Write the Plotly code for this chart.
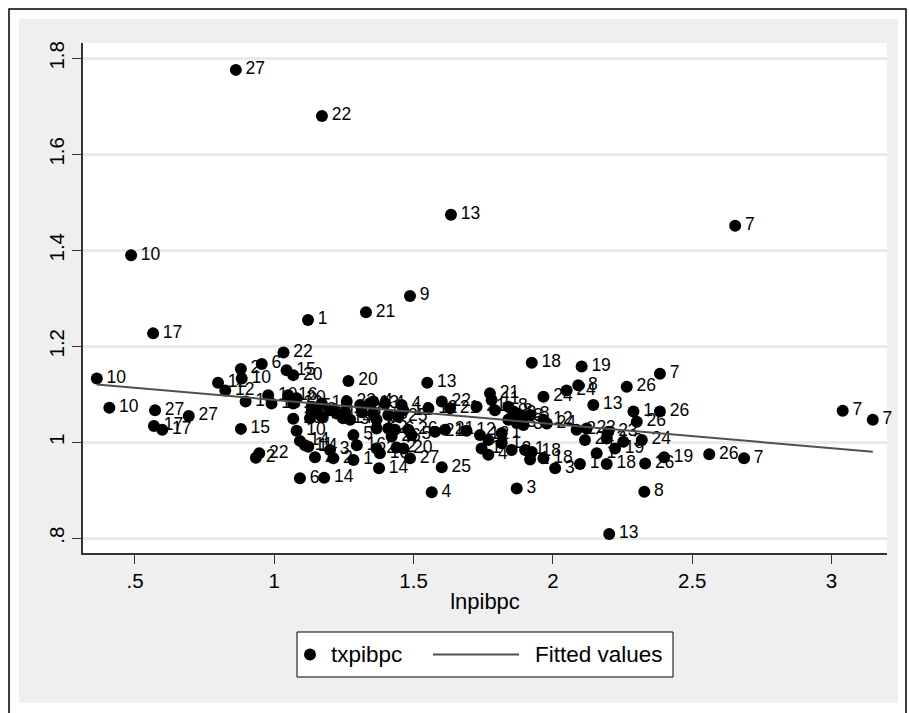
import numpy as np
import plotly.graph_objects as go

# ---- data ----
lnpibpc = [0.862, 1.171, 1.634, 2.654, 0.486, 1.487, 1.329, 1.121, 0.565, 0.363,
           0.408, 0.572, 0.568, 0.598, 0.693, 0.798, 0.824, 0.880, 0.883, 0.897,
           0.880, 1.033, 0.955, 1.044, 1.068, 1.266, 0.978, 0.990, 1.050, 1.080,
           1.068, 1.134, 1.134, 1.152, 1.170, 1.170, 1.128, 1.200, 1.224, 1.254,
           1.260, 1.247, 1.272, 1.308, 1.314, 1.343, 1.355, 1.355, 1.367, 1.367,
           1.068, 1.080, 1.092, 1.110, 1.122, 1.146, 1.200, 1.212, 1.284, 1.296,
           1.284, 1.367, 1.376, 1.092, 1.179, 0.946, 0.934, 1.549, 1.397, 1.457,
           1.463, 1.445, 1.409, 1.553, 1.601, 1.631, 1.726, 1.774, 1.780, 1.792,
           1.840, 1.858, 1.409, 1.433, 1.421, 1.481, 1.493, 1.577, 1.613, 1.690,
           1.738, 1.768, 1.744, 1.768, 1.816, 1.852, 1.379, 1.439, 1.463, 1.487,
           1.601, 1.565, 1.870, 1.924, 2.103, 2.091, 2.049, 1.966, 2.265, 2.145,
           2.384, 2.289, 2.301, 2.384, 1.870, 1.894, 1.918, 1.870, 1.894, 1.966,
           1.978, 2.085, 2.121, 2.115, 2.199, 2.193, 2.223, 2.253, 2.319, 2.157,
           2.193, 2.097, 2.008, 1.900, 1.924, 1.918, 1.966, 2.331, 2.328, 2.202,
           3.040, 3.148, 2.399, 2.561, 2.686, 1.816, 1.840]
txpibpc = [1.776, 1.680, 1.474, 1.451, 1.390, 1.305, 1.271, 1.255, 1.227, 1.133,
           1.072, 1.067, 1.034, 1.026, 1.055, 1.124, 1.108, 1.153, 1.133, 1.085,
           1.028, 1.187, 1.163, 1.150, 1.140, 1.128, 1.098, 1.081, 1.098, 1.092,
           1.081, 1.074, 1.064, 1.067, 1.081, 1.053, 1.050, 1.067, 1.060, 1.064,
           1.085, 1.050, 1.047, 1.078, 1.064, 1.081, 1.085, 1.060, 1.047, 1.029,
           1.049, 1.024, 1.003, 0.994, 0.991, 0.969, 0.984, 0.967, 1.015, 0.994,
           0.963, 0.987, 0.946, 0.925, 0.926, 0.977, 0.968, 1.124, 1.081, 1.078,
           1.067, 1.053, 1.057, 1.071, 1.085, 1.071, 1.074, 1.102, 1.088, 1.067,
           1.074, 1.064, 1.029, 1.026, 1.012, 1.026, 1.015, 1.022, 1.026, 1.024,
           1.015, 1.005, 0.987, 0.974, 0.998, 0.984, 0.977, 0.989, 0.987, 0.967,
           0.948, 0.896, 0.904, 1.166, 1.158, 1.119, 1.108, 1.095, 1.116, 1.078,
           1.143, 1.064, 1.043, 1.064, 1.060, 1.053, 1.057, 1.040, 1.036, 1.047,
           1.039, 1.026, 1.029, 1.005, 1.022, 1.008, 0.987, 1.001, 1.005, 0.977,
           0.955, 0.955, 0.946, 0.984, 0.980, 0.964, 0.967, 0.956, 0.897, 0.809,
           1.066, 1.047, 0.969, 0.975, 0.967, 1.019, 1.047]
labels = ["27", "22", "13", "7", "10", "9", "21", "1", "17", "10",
          "10", "27", "17", "17", "27", "12", "12", "2", "10", "1",
          "15", "22", "6", "15", "20", "20", "10", "13", "16", "20",
          "13", "5", "11", "2", "12", "4", "9", "2", "16", "12",
          "23", "14", "5", "18", "8", "13", "4", "16", "9", "6",
          "19", "10", "14", "11", "14", "2", "3", "2", "5", "16",
          "1", "2", "14", "6", "14", "22", "2", "13", "4", "4",
          "12", "25", "5", "12", "22", "21", "21", "21", "11", "1",
          "8", "8", "2", "6", "26", "26", "5", "21", "21", "12",
          "12", "8", "1", "4", "1", "2", "16", "2", "20", "27",
          "25", "4", "3", "18", "19", "8", "24", "24", "26", "13",
          "7", "1", "26", "26", "3", "8", "8", "3", "3", "12",
          "24", "2", "23", "24", "23", "2", "19", "3", "24", "1",
          "18", "1", "3", "1", "18", "1", "18", "26", "8", "13",
          "7", "7", "19", "26", "7", "1", "2"]

x_ticks = [0.5, 1, 1.5, 2, 2.5, 3]
x_ticktext = [".5", "1", "1.5", "2", "2.5", "3"]
y_ticks = [0.8, 1.0, 1.2, 1.4, 1.6, 1.8]
y_ticktext = [".8", "1", "1.2", "1.4", "1.6", "1.8"]
series_names = ["txpibpc", "Fitted values"]

# ---- fitted values (OLS) ----
xa = np.array(lnpibpc)
ya = np.array(txpibpc)
slope, intercept = np.polyfit(xa, ya, 1)
xfit = np.array([xa.min(), xa.max()])
yfit = intercept + slope * xfit

FONT = "Arial, Liberation Sans, sans-serif"
W, H = 909, 713
ML, MR, MT, MB = 83, 22, 43, 160
PW, PH = W - ML - MR, H - MT - MB
FIT_COLOR = "#505050"


def px(xp, yp):
    return (xp - ML) / PW, (H - MB - yp) / PH


def rect(x0, y0, x1, y1, **kw):
    a0, b0 = px(x0, y0)
    a1, b1 = px(x1, y1)
    d = dict(type="rect", xref="paper", yref="paper", x0=a0, y0=b0, x1=a1, y1=b1)
    d.update(kw)
    return d


GRAY = "#efefef"
shapes = [
    rect(19, 19, 898, MT, fillcolor=GRAY, line_width=0, layer="below"),
    rect(19, H - MB, 898, 703, fillcolor=GRAY, line_width=0, layer="below"),
    rect(19, MT, ML, H - MB, fillcolor=GRAY, line_width=0, layer="below"),
    rect(W - MR, MT, 898, H - MB, fillcolor=GRAY, line_width=0, layer="below"),
    rect(9, 9, 906, 730, line=dict(color="black", width=1.5),
         fillcolor="rgba(0,0,0,0)", layer="below"),
    # legend box
    rect(297, 632, 673, 677, line=dict(color="black", width=1), fillcolor="white"),
]
# legend symbols
c0 = px(304, 648.5)
c1 = px(316, 660.5)
shapes.append(dict(type="circle", xref="paper", yref="paper", x0=c0[0], y0=c1[1],
                   x1=c1[0], y1=c0[1], fillcolor="black", line_width=0))
l0 = px(433, 654.5)
l1 = px(519, 654.5)
shapes.append(dict(type="line", xref="paper", yref="paper", x0=l0[0], y0=l0[1],
                   x1=l1[0], y1=l1[1], line=dict(color=FIT_COLOR, width=2)))

annotations = []
for name, xl in zip(series_names, [329, 533]):
    ax, ay = px(xl, 654.5)
    annotations.append(dict(text=name, xref="paper", yref="paper", x=ax, y=ay,
                            xanchor="left", yanchor="middle", showarrow=False,
                            font=dict(family=FONT, size=22.5, color="black")))

fig = go.Figure()
fig.add_trace(go.Scatter(
    x=lnpibpc, y=txpibpc, mode="markers", name=series_names[0],
    marker=dict(color="black", size=12, line=dict(width=0)),
))
fig.add_trace(go.Scatter(
    x=lnpibpc, y=txpibpc, mode="markers+text", text=labels, textposition="middle right",
    marker=dict(size=14, opacity=0), cliponaxis=False,
    textfont=dict(family=FONT, size=17.5, color="black"), showlegend=False,
    hoverinfo="skip",
))
fig.add_trace(go.Scatter(
    x=xfit, y=yfit, mode="lines", name=series_names[1],
    line=dict(color=FIT_COLOR, width=2),
))

fig.update_layout(
    width=W, height=H,
    margin=dict(l=ML, r=MR, t=MT, b=MB, autoexpand=False),
    paper_bgcolor="white", plot_bgcolor="white",
    font=dict(family=FONT, color="black"),
    shapes=shapes, annotations=annotations,
    showlegend=False,
)
fig.update_xaxes(
    range=[0.3134, 3.199], tickvals=x_ticks, ticktext=x_ticktext, automargin=False,
    showgrid=False, zeroline=False, showline=True, linecolor="#333333", linewidth=1.5,
    ticks="outside", ticklen=9, tickcolor="#333333", tickwidth=1,
    tickfont=dict(family=FONT, size=20.5, color="black"),
    title=dict(text="lnpibpc", font=dict(family=FONT, size=22, color="black"), standoff=2),
)
fig.update_yaxes(
    range=[0.7694, 1.832], tickvals=y_ticks, ticktext=y_ticktext, tickangle=-90,
    automargin=False,
    showgrid=True, gridcolor="#eaeaea", gridwidth=2.5, zeroline=False,
    showline=True, linecolor="#333333", linewidth=1.5,
    ticks="outside", ticklen=9, tickcolor="#333333", tickwidth=1,
    tickfont=dict(family=FONT, size=20.5, color="black"),
)

fig.write_html("out.html", config={"displayModeBar": False},
               post_script="document.body.style.margin='0px';")
